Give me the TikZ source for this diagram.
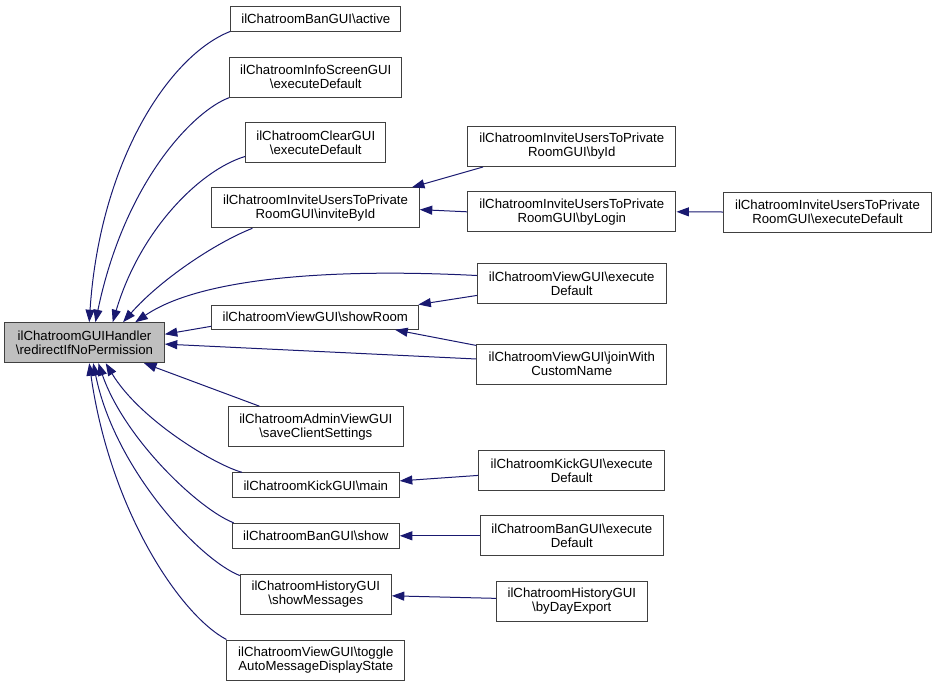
\documentclass[tikz,border=0pt]{standalone}
\usepackage{fontspec}
\setmainfont{Liberation Sans}
\usetikzlibrary{arrows.meta}
\definecolor{edgecol}{HTML}{191970}
\definecolor{rootfill}{HTML}{BFBFBF}
\begin{document}
\begin{tikzpicture}[x=1pt,y=-1pt,
  box/.style={draw=black!75, fill=white, line width=1pt, inner sep=0pt, align=center, font=\fontsize{13.2}{14}\selectfont},
  one/.style={box, minimum height=25pt},
  two/.style={box, minimum height=40pt},
  edge/.style={draw=edgecol, line width=1pt, -{Triangle[length=12.5pt,width=9pt]}, fill=none}
]
\useasboundingbox (0,0) rectangle (937,686);

% root
\node[two, fill=rootfill, minimum width=159.6pt] (root) at (84.5,342.7) {ilChatroomGUIHandler\\\textbackslash redirectIfNoPermission};

% first column
\node[one, minimum width=170.3pt] (A1) at (315.8,18.5) {ilChatroomBanGUI\textbackslash active};
\node[two, minimum width=172.3pt] (A2) at (315.8,77.2) {ilChatroomInfoScreenGUI\\\textbackslash executeDefault};
\node[two, minimum width=140.3pt] (A3) at (315.8,142.7) {ilChatroomClearGUI\\\textbackslash executeDefault};
\node[two, minimum width=207.6pt] (A4) at (315.5,207.8) {ilChatroomInviteUsersToPrivate\\RoomGUI\textbackslash inviteById};
\node[one, minimum width=207.3pt, minimum height=24.3pt] (A5) at (315.3,317.2) {ilChatroomViewGUI\textbackslash showRoom};
\node[two, minimum width=175pt] (A6) at (315.8,426.7) {ilChatroomAdminViewGUI\\\textbackslash saveClientSettings};
\node[one, minimum width=167pt] (A7) at (315.8,485.3) {ilChatroomKickGUI\textbackslash main};
\node[one, minimum width=167pt] (A8) at (315.8,535.8) {ilChatroomBanGUI\textbackslash show};
\node[two, minimum width=151pt] (A9) at (315.8,594.5) {ilChatroomHistoryGUI\\\textbackslash showMessages};
\node[two, minimum width=177.7pt] (A10) at (315.8,660) {ilChatroomViewGUI\textbackslash toggle\\AutoMessageDisplayState};

% second column
\node[two, minimum width=208.3pt] (B1) at (571.8,146.5) {ilChatroomInviteUsersToPrivate\\RoomGUI\textbackslash byId};
\node[two, minimum width=208.3pt] (B2) at (571.8,211.8) {ilChatroomInviteUsersToPrivate\\RoomGUI\textbackslash byLogin};
\node[two, minimum width=188.7pt] (B3) at (571.7,283.8) {ilChatroomViewGUI\textbackslash execute\\Default};
\node[two, minimum width=190.3pt] (B4) at (571.8,364) {ilChatroomViewGUI\textbackslash joinWith\\CustomName};
\node[two, minimum width=186pt] (B5) at (571.7,470.5) {ilChatroomKickGUI\textbackslash execute\\Default};
\node[two, minimum width=183pt] (B6) at (571.8,535.8) {ilChatroomBanGUI\textbackslash execute\\Default};
\node[two, minimum width=151pt] (B7) at (571.8,601) {ilChatroomHistoryGUI\\\textbackslash byDayExport};

% third column
\node[two, minimum width=208.4pt] (C1) at (827.5,212) {ilChatroomInviteUsersToPrivate\\RoomGUI\textbackslash executeDefault};

% edges to root (upper)
\draw[edge] (A1.south west) .. controls (170,55) and (100,160) .. (root.77);
\draw[edge] (A2.south west) .. controls (195,110) and (125,180) .. (root.62);
\draw[edge] (A3.191) .. controls (200,170) and (140,230) .. (root.36);
\draw[edge] (A4.198.5) .. controls (215,243) and (160,280) .. (root.28);
\draw[edge] (B3.175.7) .. controls (330,268) and (200,278) .. (root.22.8);
\draw[edge] (A5.185.9) -- (root.6.9);
\draw[edge] (B4.177.6) -- (root.-1.7);
% edges to root (lower)
\draw[edge] (A6.160.3) -- (root.-19.2);
\draw[edge] (A7.170.1) .. controls (215,465) and (140,420) .. (root.-44.3);
\draw[edge] (A8.171) .. controls (200,510) and (125,440) .. (root.-56);
\draw[edge] (A9.166.7) .. controls (200,560) and (115,470) .. (root.-67);
\draw[edge] (A10.north west) .. controls (180,615) and (110,510) .. (root.-77.3);

% second-level edges
\draw[edge] (B1.193.4) -- (A4.12.7);
\draw[edge] (B2.180.7) -- (A4.-1.8);
\draw[edge] (C1.west) -- (B2.east);
\draw[edge] (B3.187.8) -- (A5.7.1);
\draw[edge] (B4.169.1) -- (A5.-9.7);
\draw[edge] (B5.183.4) -- (A7.3.6);
\draw[edge] (B6.west) -- (A8.east);
\draw[edge] (B7.178.5) -- (A9.-1.9);
\end{tikzpicture}
\end{document}
